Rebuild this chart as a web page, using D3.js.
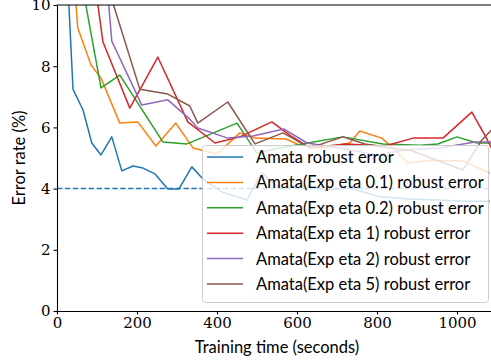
<!DOCTYPE html>
<html>
<head>
<meta charset="utf-8">
<script src="https://cdn.jsdelivr.net/npm/d3@7"></script>
<style>
  body { margin: 0; background: #fff; }
  svg { display: block; }
  .lbl { font-family: "Lato", "Open Sans", sans-serif; font-size: 16.5px; fill: #000; }
</style>
</head>
<body>
<div id="chart"></div>
<script>
// chart values (time in seconds, error rate in %)
var seriesNames = [
  "Amata robust error",
  "Amata(Exp eta 0.1) robust error",
  "Amata(Exp eta 0.2) robust error",
  "Amata(Exp eta 1) robust error",
  "Amata(Exp eta 2) robust error",
  "Amata(Exp eta 5) robust error"
];
var colors = ["#1f77b4", "#ff7f0e", "#2ca02c", "#d62728", "#9467bd", "#8c564b"];

var timeBase = [17, 40, 65, 87, 110, 137, 162, 190, 215, 245, 277, 305, 337, 365, 412, 475, 512, 557, 607, 670, 732, 807, 882, 957, 1020, 1082];
var errBase  = [13.4, 7.25, 6.57, 5.49, 5.10, 5.69, 4.58, 4.74, 4.67, 4.48, 3.99, 3.99, 4.71, 4.31, 3.89, 3.63, 4.51, 3.99, 4.12, 3.95, 4.02, 3.73, 3.66, 3.63, 3.59, 3.59];

var timeEta01 = [22, 52, 85, 110, 157, 202, 247, 297, 340, 400, 457, 495, 572, 607, 670, 732, 757, 812, 845, 877, 937, 1015, 1082];
var errEta01  = [14.1, 9.25, 8.04, 7.61, 6.14, 6.18, 5.39, 6.14, 5.33, 5.13, 5.82, 5.65, 5.62, 5.42, 5.33, 5.49, 5.88, 5.65, 5.26, 4.84, 4.93, 4.90, 4.51];

var timeEta02 = [62, 110, 157, 265, 325, 450, 500, 557, 627, 715, 815, 907, 952, 1000, 1050, 1095];
var errEta02  = [10.72, 7.29, 7.71, 5.52, 5.46, 6.14, 5.16, 5.33, 5.49, 5.69, 5.46, 5.42, 5.46, 5.69, 5.49, 5.49];

var timeEta1 = [97, 115, 182, 252, 327, 395, 457, 537, 582, 632, 720, 820, 890, 965, 1037, 1072, 1095];
var errEta1  = [10.49, 8.79, 6.63, 8.30, 6.18, 5.49, 5.69, 6.18, 5.75, 5.33, 5.46, 5.39, 5.65, 5.65, 6.50, 5.69, 5.10];

var timeEta2 = [122, 137, 212, 277, 332, 352, 427, 490, 567, 625, 707, 800, 870, 957, 1045, 1095];
var errEta2  = [11.14, 8.82, 6.73, 6.90, 6.27, 5.98, 5.65, 5.72, 5.95, 5.49, 5.33, 5.10, 5.26, 5.33, 5.52, 5.52];

var timeEta5 = [127, 207, 277, 332, 352, 427, 495, 565, 632, 715, 770, 832, 882, 1015, 1062, 1087];
var errEta5  = [10.6, 7.25, 7.09, 6.70, 6.14, 6.83, 5.46, 5.82, 5.33, 5.69, 5.46, 5.33, 5.26, 4.61, 5.59, 5.92];

var baselineErr = 4;
var xTicks = [0, 200, 400, 600, 800, 1000];
var yTicks = [0, 2, 4, 6, 8, 10];

var W = 491, H = 362;
var margin = {top: 5, left: 57, bottom: 51};

var svg = d3.select("#chart").append("svg")
  .attr("width", W)
  .attr("height", H);

var x = d3.scaleLinear().domain([0, 1085]).range([margin.left, W]);
var y = d3.scaleLinear().domain([0, 10]).range([H - margin.bottom, margin.top]);

svg.append("clipPath").attr("id", "plot-clip")
  .append("rect")
  .attr("x", margin.left).attr("y", margin.top)
  .attr("width", W - margin.left).attr("height", H - margin.bottom - margin.top);

var series = [
  [timeBase, errBase],
  [timeEta01, errEta01],
  [timeEta02, errEta02],
  [timeEta1, errEta1],
  [timeEta2, errEta2],
  [timeEta5, errEta5]
].map(function(s, i) {
  return { name: seriesNames[i], color: colors[i], pts: s[0].map(function(t, j) { return [t, s[1][j]]; }) };
});

var line = d3.line().x(function(d) { return x(d[0]); }).y(function(d) { return y(d[1]); });

var plot = svg.append("g").attr("clip-path", "url(#plot-clip)");

plot.selectAll(".series")
  .data(series)
  .enter().append("path")
  .attr("class", "series")
  .attr("d", function(d) { return line(d.pts); })
  .attr("fill", "none")
  .attr("stroke", function(d) { return d.color; })
  .attr("stroke-width", 1.5)
  .attr("stroke-linejoin", "round");

// dashed reference line
plot.append("line")
  .attr("x1", x(0)).attr("x2", W)
  .attr("y1", y(baselineErr)).attr("y2", y(baselineErr))
  .attr("stroke", colors[0])
  .attr("stroke-width", 1.5)
  .attr("stroke-dasharray", "5.5,2.4");

// axes
var xAxis = svg.append("g")
  .attr("transform", "translate(0," + y(0) + ")")
  .call(d3.axisBottom(x).tickValues(xTicks).tickFormat(d3.format("d")).tickSize(3.5).tickPadding(3).tickSizeOuter(0));

var yAxis = svg.append("g")
  .attr("transform", "translate(" + x(0) + ",0)")
  .call(d3.axisLeft(y).tickValues(yTicks).tickFormat(d3.format("d")).tickSize(3.5).tickPadding(3).tickSizeOuter(0));

[xAxis, yAxis].forEach(function(a) {
  a.select(".domain").attr("stroke", "#000").attr("stroke-width", 1.1);
  a.selectAll(".tick line").attr("stroke", "#000").attr("stroke-width", 1.1);
  a.selectAll(".tick text")
    .attr("fill", "#000")
    .style("font-family", "'DejaVu Serif', serif")
    .style("font-size", "15px");
});

// top spine
svg.append("line")
  .attr("x1", x(0)).attr("x2", W)
  .attr("y1", y(10)).attr("y2", y(10))
  .attr("stroke", "#000").attr("stroke-width", 1.1);

// axis labels
svg.append("text").attr("class", "lbl")
  .attr("x", 277).attr("y", 353)
  .attr("text-anchor", "middle")
  .text("Training time (seconds)");

svg.append("text").attr("class", "lbl")
  .attr("transform", "translate(25,158) rotate(-90)")
  .attr("text-anchor", "middle")
  .text("Error rate (%)");

// legend
var lg = svg.append("g");
lg.append("rect")
  .attr("x", 202.5).attr("y", 145.5)
  .attr("width", 286).attr("height", 157)
  .attr("rx", 3)
  .attr("fill", "#fff").attr("fill-opacity", 0.8)
  .attr("stroke", "#ccc").attr("stroke-width", 1);

var rows = lg.selectAll(".row")
  .data(series)
  .enter().append("g")
  .attr("transform", function(d, i) { return "translate(0," + (157 + i * 25.4) + ")"; });

rows.append("line")
  .attr("x1", 207).attr("x2", 243)
  .attr("stroke", function(d) { return d.color; })
  .attr("stroke-width", 1.5);

rows.append("text").attr("class", "lbl")
  .attr("x", 256).attr("dy", "0.36em")
  .text(function(d) { return d.name; });
</script>
</body>
</html>
